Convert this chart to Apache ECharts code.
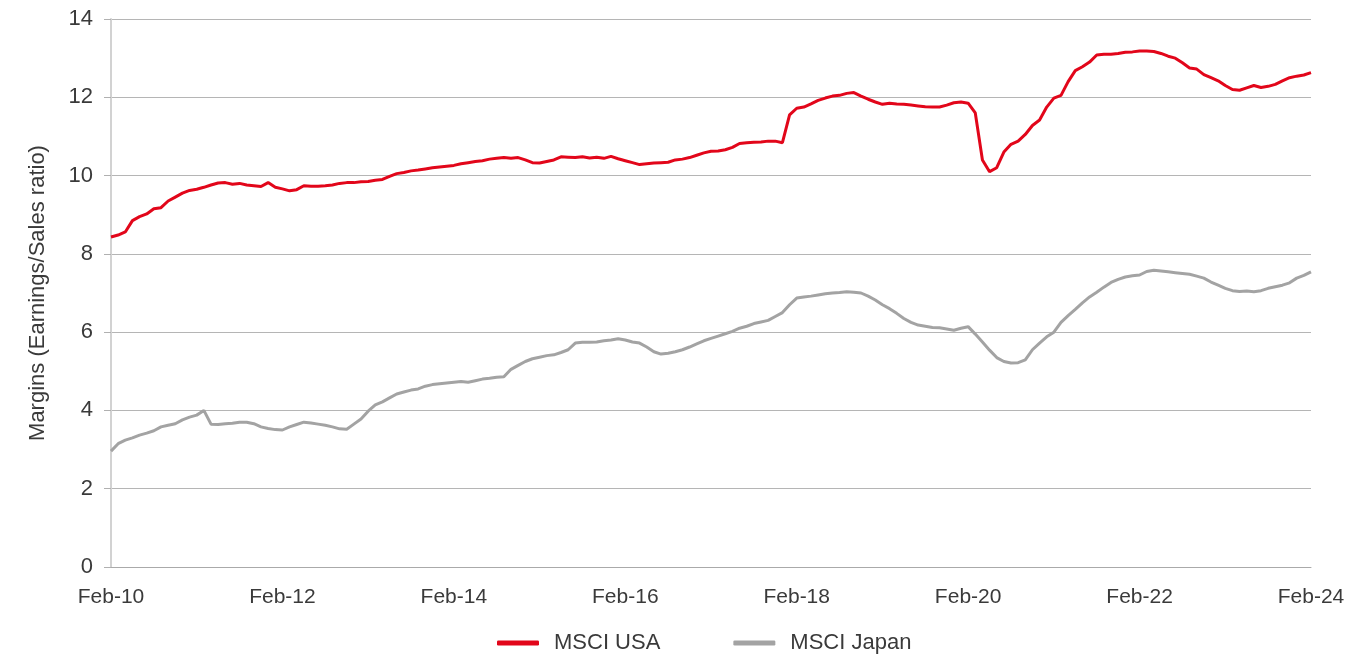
<!DOCTYPE html>
<html>
<head>
<meta charset="utf-8">
<script src="https://cdn.jsdelivr.net/npm/echarts@6/dist/echarts.min.js"></script>
<style>
    html, body { margin: 0; padding: 0; background: #fff; }
    #chart { width: 1369px; height: 657px; }
</style>
</head>
<body>
<div id="chart"></div>
<script>
// monthly categories Feb-10 .. Feb-24
var monthNames = ['Jan', 'Feb', 'Mar', 'Apr', 'May', 'Jun', 'Jul', 'Aug', 'Sep', 'Oct', 'Nov', 'Dec'];
var months = [];
for (var i = 0; i <= 168; i++) {
    var k = 1 + i;
    months.push(monthNames[k % 12] + '-' + (10 + Math.floor(k / 12)));
}

var yTicks = [0, 2, 4, 6, 8, 10, 12, 14];

var usaData = [
    8.43, 8.48, 8.56, 8.85, 8.95, 9.02, 9.15, 9.18, 9.35, 9.45, 9.55, 9.62,
    9.65, 9.70, 9.76, 9.81, 9.82, 9.78, 9.80, 9.76, 9.74, 9.72, 9.82, 9.70,
    9.66, 9.61, 9.64, 9.74, 9.73, 9.73, 9.74, 9.76, 9.80, 9.82, 9.82, 9.84,
    9.85, 9.88, 9.90, 9.98, 10.05, 10.08, 10.12, 10.14, 10.17, 10.20, 10.22, 10.24,
    10.26, 10.30, 10.33, 10.36, 10.38, 10.42, 10.44, 10.46, 10.44, 10.46, 10.40, 10.33,
    10.32, 10.36, 10.40, 10.48, 10.47, 10.46, 10.48, 10.45, 10.47, 10.44, 10.49, 10.43,
    10.38, 10.33, 10.28, 10.30, 10.32, 10.33, 10.34, 10.40, 10.42, 10.46, 10.52, 10.58,
    10.62, 10.63, 10.66, 10.72, 10.82, 10.84, 10.85, 10.86, 10.88, 10.88, 10.84, 11.55,
    11.72, 11.75, 11.83, 11.92, 11.98, 12.03, 12.05, 12.10, 12.12, 12.03, 11.95, 11.88,
    11.82, 11.85, 11.83, 11.82, 11.80, 11.78, 11.76, 11.75, 11.75, 11.80, 11.86, 11.88,
    11.85, 11.60, 10.40, 10.10, 10.20, 10.60, 10.80, 10.88, 11.05, 11.28, 11.42, 11.75,
    11.98, 12.05, 12.40, 12.68, 12.78, 12.90, 13.08, 13.10, 13.10, 13.12, 13.15, 13.16,
    13.18, 13.18, 13.17, 13.12, 13.05, 13.00, 12.88, 12.75, 12.72, 12.58, 12.50, 12.42,
    12.30, 12.20, 12.18, 12.24, 12.30, 12.25, 12.28, 12.33, 12.42, 12.50, 12.54, 12.57,
    12.63
];

var japanData = [
    2.96, 3.15, 3.24, 3.30, 3.37, 3.42, 3.48, 3.58, 3.62, 3.66, 3.76, 3.83,
    3.88, 4.00, 3.65, 3.64, 3.66, 3.67, 3.70, 3.70, 3.66, 3.58, 3.54, 3.51,
    3.50, 3.58, 3.64, 3.70, 3.68, 3.65, 3.62, 3.58, 3.53, 3.52, 3.65, 3.78,
    3.98, 4.14, 4.22, 4.32, 4.42, 4.47, 4.52, 4.55, 4.62, 4.66, 4.68, 4.70,
    4.72, 4.74, 4.72, 4.76, 4.80, 4.82, 4.85, 4.86, 5.05, 5.15, 5.25, 5.32,
    5.36, 5.40, 5.42, 5.48, 5.55, 5.72, 5.74, 5.74, 5.75, 5.78, 5.80, 5.83,
    5.80, 5.75, 5.72, 5.62, 5.50, 5.44, 5.46, 5.50, 5.55, 5.62, 5.70, 5.78,
    5.84, 5.90, 5.96, 6.02, 6.10, 6.15, 6.22, 6.26, 6.30, 6.40, 6.50, 6.70,
    6.87, 6.90, 6.92, 6.95, 6.98, 7.00, 7.01, 7.03, 7.02, 7.00, 6.92, 6.82,
    6.70, 6.60, 6.48, 6.35, 6.25, 6.18, 6.15, 6.12, 6.11, 6.08, 6.05, 6.10,
    6.14, 5.95, 5.75, 5.54, 5.35, 5.25, 5.21, 5.22, 5.29, 5.55, 5.72, 5.88,
    6.00, 6.25, 6.42, 6.58, 6.75, 6.90, 7.02, 7.15, 7.27, 7.35, 7.41, 7.44,
    7.46, 7.55, 7.58, 7.56, 7.54, 7.52, 7.50, 7.48, 7.43, 7.38, 7.28, 7.20,
    7.12, 7.06, 7.04, 7.05, 7.03, 7.06, 7.12, 7.16, 7.20, 7.26, 7.38, 7.45,
    7.54
];

var fontFam = '"Liberation Sans", Arial, sans-serif';
var textColor = '#3a3a3a';

var myChart = echarts.init(document.getElementById('chart'));
var option = {
    backgroundColor: '#ffffff',
    animation: false,
    color: ['#e2061a', '#a3a3a3'],
    textStyle: { fontFamily: fontFam },
    grid: {
        left: 111,
        right: 58,
        top: 19,
        bottom: 90
    },
    legend: {
        left: 492,
        top: 627,
        icon: 'roundRect',
        itemWidth: 42,
        itemHeight: 5,
        itemGap: 73,
        textStyle: {
            fontFamily: fontFam,
            fontSize: 22,
            color: textColor,
            padding: [0, 0, 0, 10]
        },
        data: ['MSCI USA', 'MSCI Japan']
    },
    xAxis: {
        type: 'category',
        data: months,
        boundaryGap: false,
        axisLine: { lineStyle: { color: '#aaaaaa', width: 1 } },
        axisTick: { show: false },
        splitLine: { show: false },
        axisLabel: {
            interval: function (idx) { return idx % 24 === 0; },
            margin: 20,
            fontSize: 21,
            color: textColor,
            fontFamily: fontFam
        }
    },
    yAxis: {
        type: 'value',
        min: yTicks[0],
        max: yTicks[yTicks.length - 1],
        interval: 2,
        name: 'Margins (Earnings/Sales ratio)',
        nameLocation: 'middle',
        nameRotate: 90,
        nameGap: 62,
        nameTextStyle: {
            fontSize: 22,
            color: textColor,
            fontFamily: fontFam
        },
        axisLine: { show: true, lineStyle: { color: '#d2d2d2', width: 2 } },
        axisTick: { show: true, length: 7, lineStyle: { color: '#b0b0b0' } },
        splitLine: { show: true, lineStyle: { color: '#b5b5b5', width: 1 } },
        axisLabel: {
            margin: 18,
            fontSize: 22,
            color: textColor,
            fontFamily: fontFam
        }
    },
    series: [
        {
            name: 'MSCI USA',
            type: 'line',
            data: usaData,
            showSymbol: false,
            lineStyle: { width: 3, color: '#e2061a' }
        },
        {
            name: 'MSCI Japan',
            type: 'line',
            data: japanData,
            showSymbol: false,
            lineStyle: { width: 3, color: '#a3a3a3' }
        }
    ]
};
myChart.setOption(option);
</script>
</body>
</html>
